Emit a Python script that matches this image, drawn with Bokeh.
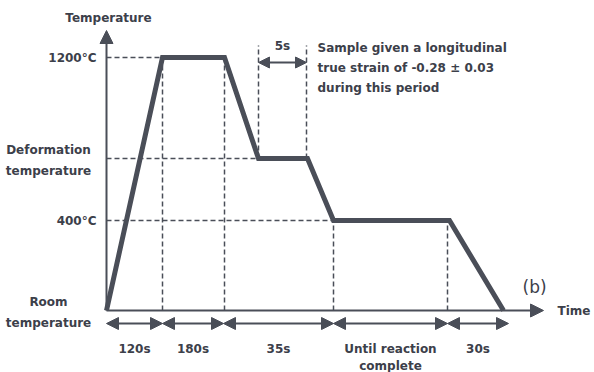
from bokeh.plotting import figure
from bokeh.models import Range1d, Arrow, NormalHead, ColumnDataSource
from bokeh.core.properties import value
from bokeh.embed import file_html
from bokeh.resources import INLINE

# ---- schematic data (diagram units) ----
level_names = ["Room\ntemperature", "400°C", "Deformation\ntemperature", "1200°C"]
level_heights = [0, 90, 152, 253]          # relative heights of the temperature levels

# thermal profile: schematic time positions and level index
profile_t = [0, 56, 118, 152, 201, 227, 343, 397]
profile_lvl = [0, 3, 3, 2, 2, 1, 1, 0]

# segments shown under the time axis
segment_bounds = [0, 56, 117, 227, 341, 402]
segment_labels = ["120s", "180s", "35s", "Until reaction\ncomplete", "30s"]

# deformation window
deform_window = [152, 200]
deform_label = "5s"
note_text = "Sample  given a longitudinal\ntrue strain of -0.28 ± 0.03\nduring this period"

axis_x_end = 437
axis_y_end = 280

# ---- styles ----
INK = "#4a4e58"
TXT = "#3c404a"
FONT = value("DejaVu Sans")

p = figure(width=594, height=372, output_backend="svg", toolbar_location=None,
           x_range=Range1d(-106, 488), y_range=Range1d(-62, 310),
           x_axis_location=None, y_axis_location=None,
           min_border=0, outline_line_color=None, background_fill_color="white",
           border_fill_color="white")
p.grid.visible = False

py = [level_heights[i] for i in profile_lvl]

# dashed guide lines
h_ends = {3: profile_t[1], 2: profile_t[3], 1: profile_t[5]}
for k, xe in h_ends.items():
    p.line([0, xe], [level_heights[k], level_heights[k]], line_color=INK,
           line_width=1.5, line_dash="5 3")
for xv, ytop in [(profile_t[1], level_heights[3]), (profile_t[2], level_heights[3]),
                 (segment_bounds[3], level_heights[1]), (segment_bounds[4], level_heights[1])]:
    p.line([xv, xv], [0, ytop], line_color=INK, line_width=1.5, line_dash="5 3")
for xv in deform_window:
    p.line([xv, xv], [level_heights[2], 265], line_color=INK, line_width=1.5, line_dash="5 3")

# axes with arrow heads
p.add_layout(Arrow(x_start=0, y_start=0, x_end=0, y_end=axis_y_end, line_color=INK, line_width=2,
                   end=NormalHead(size=13, fill_color=INK, line_color=INK)))
p.add_layout(Arrow(x_start=0, y_start=0, x_end=axis_x_end, y_end=0, line_color=INK, line_width=2,
                   end=NormalHead(size=13, fill_color=INK, line_color=INK)))

# profile
p.line(profile_t, py, line_color=INK, line_width=5, line_join="miter")

# segment double arrows
seg_src = ColumnDataSource(dict(x0=segment_bounds[:-1], x1=segment_bounds[1:],
                                y=[-13] * (len(segment_bounds) - 1)))
p.add_layout(Arrow(x_start="x0", y_start="y", x_end="x1", y_end="y", source=seg_src,
                   line_color=INK, line_width=2,
                   start=NormalHead(size=12, fill_color=INK, line_color=INK),
                   end=NormalHead(size=12, fill_color=INK, line_color=INK)))
p.add_layout(Arrow(x_start=deform_window[0], y_start=248, x_end=deform_window[1], y_end=248,
                   line_color=INK, line_width=2,
                   start=NormalHead(size=11, fill_color=INK, line_color=INK),
                   end=NormalHead(size=11, fill_color=INK, line_color=INK)))

txt = dict(text_color=TXT, text_font=FONT, text_font_style="bold", text_font_size="12px")

# segment labels
centers = [(a + b) / 2 for a, b in zip(segment_bounds[:-1], segment_bounds[1:])]
p.text(centers, [0] * len(centers), text=segment_labels, text_align="center",
       text_baseline="top", y_offset=31, text_line_height=1.25, **txt)

# level labels
p.text([0, 0], [level_heights[1], level_heights[3]], text=[level_names[1], level_names[3]],
       text_align="right", text_baseline="middle", x_offset=-10, **txt)
p.text([0, 0], [level_heights[0], level_heights[2]], text=[level_names[0], level_names[2]],
       text_align="center", text_baseline="middle", x_offset=-58, y_offset=2,
       text_line_height=1.5, **txt)

# axis titles
p.text([0], [axis_y_end], text=["Temperature"], text_align="center", text_baseline="middle",
       y_offset=-13, x_offset=2, **txt)
p.text([axis_x_end], [0], text=["Time"], text_align="left", text_baseline="middle",
       x_offset=14, **txt)
p.text([axis_x_end], [0], text=["(b)"], text_align="left", text_baseline="middle",
       x_offset=-21, y_offset=-24, text_color=TXT, text_font=FONT, text_font_size="17px")

# deformation notes
p.text([sum(deform_window) / 2], [248], text=[deform_label], text_align="center",
       text_baseline="middle", y_offset=-17, **txt)
p.text([deform_window[1]], [level_heights[3]], text=[note_text], text_align="left",
       text_baseline="top", x_offset=11, y_offset=-17, text_line_height=1.45, **txt)

open("out.html", "w").write(file_html(p, INLINE))
